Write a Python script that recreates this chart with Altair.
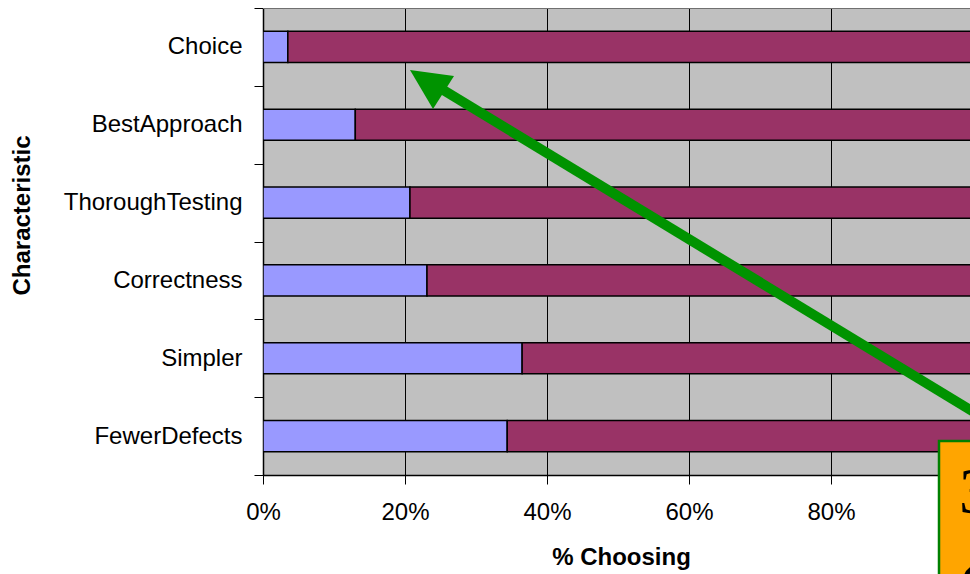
import altair as alt
import pandas as pd

# ---- data ----
categories = ["Choice", "BestApproach", "ThoroughTesting", "Correctness", "Simpler", "FewerDefects"]
pct_first = [3.5, 13.0, 20.7, 23.1, 36.5, 34.4]   # light-blue segment (%)
total = 100.0                                      # bars run to 100%
series_names = ["Chose", "Did not choose"]
series_colors = ["#9999FF", "#993366"]
x_tick_values = [0, 20, 40, 60, 80, 100]
box_lines = ["3", "6"]

rows = []
for cat, v in zip(categories, pct_first):
    rows.append({"category": cat, "series": series_names[0], "start": 0.0, "end": v})
    rows.append({"category": cat, "series": series_names[1], "start": v, "end": total})
df = pd.DataFrame(rows)

FONT = "Liberation Sans"
GREEN = "#009300"

bars = alt.Chart(df).mark_bar(
    stroke="black", strokeWidth=1.5, clip=True, height=alt.RelativeBandSize(0.4)
).encode(
    x=alt.X(
        "start:Q",
        scale=alt.Scale(domain=[0, 99.58], nice=False, zero=True),
        axis=alt.Axis(
            values=x_tick_values,
            labelExpr="datum.value + '%'",
            labelFlush=False,
            title="% Choosing",
            grid=True,
            gridColor="black",
            gridWidth=1,
            gridOpacity=1,
            tickSize=9,
            labelPadding=16,
            titleX=358,
            titleY=82,
            titleBaseline="middle",
        ),
    ),
    x2="end:Q",
    y=alt.Y(
        "category:N",
        sort=categories,
        scale=alt.Scale(paddingInner=0, paddingOuter=0),
        axis=alt.Axis(
            title="Characteristic",
            tickBand="extent",
            tickSize=9,
            labelPadding=12,
            titleAngle=270,
            titleX=-241,
            titleY=207,
            titleAlign="center",
            titleBaseline="middle",
            grid=False,
        ),
    ),
    color=alt.Color(
        "series:N",
        scale=alt.Scale(domain=series_names, range=series_colors),
        legend=None,
    ),
)

one = pd.DataFrame({"k": [0]})

top_line = alt.Chart(one).mark_rule(color="#707070", strokeWidth=1).encode(
    x=alt.value(0), x2=alt.value(707), y=alt.value(0.5)
)

arrow_shaft = alt.Chart(one).mark_rule(color=GREEN, strokeWidth=10).encode(
    x=alt.value(714), y=alt.value(406), x2=alt.value(172), y2=alt.value(77)
)

arrow_head = alt.Chart(one).mark_point(
    shape="M0,0 L44,6 L23,39 Z", size=4, filled=True, color=GREEN, opacity=1, strokeWidth=0
).encode(x=alt.value(147), y=alt.value(62))

box = alt.Chart(one).mark_rect(fill="#FFA500", stroke="#008000", strokeWidth=2.5).encode(
    x=alt.value(676), x2=alt.value(730), y=alt.value(433), y2=alt.value(620)
)

box_df = pd.DataFrame({"line": box_lines, "ypos": [505, 600]})
box_text = alt.Chart(box_df).mark_text(
    font="Liberation Serif", fontSize=66, align="left", baseline="alphabetic", color="black"
).encode(x=alt.value(696), y=alt.Y("ypos:Q", scale=None), text="line:N")

chart = alt.layer(bars, top_line, arrow_shaft, arrow_head, box, box_text).properties(
    width=707,
    height=467,
    autosize=alt.AutoSizeParams(type="none"),
    padding={"left": 263, "top": 8, "right": 0, "bottom": 99},
    background="white",
).configure_view(
    fill="#C0C0C0", stroke=None
).configure_axis(
    labelFont=FONT,
    labelFontSize=24,
    labelColor="black",
    titleFont=FONT,
    titleFontSize=24,
    titleFontWeight="bold",
    titleColor="black",
    domainColor="black",
    domainWidth=1.5,
    tickColor="black",
    tickWidth=1,
)

chart.save("out.html", embed_options={"renderer": "svg", "actions": False})
